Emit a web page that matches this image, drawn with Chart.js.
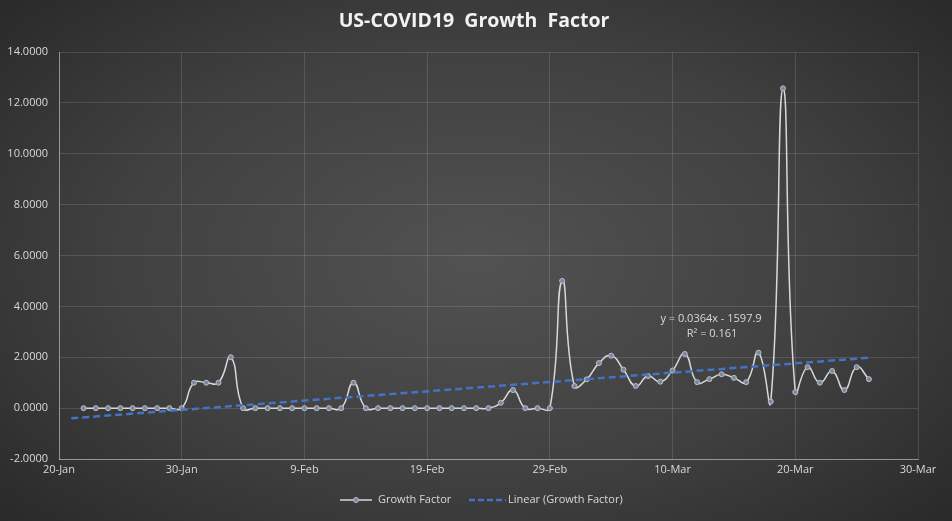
<!DOCTYPE html>
<html>
<head>
<meta charset="utf-8">
<script src="https://cdn.jsdelivr.net/npm/chart.js@4.4.1/dist/chart.umd.min.js"></script>
<style>
  html, body { margin: 0; padding: 0; }
  body {
    width: 952px; height: 521px; overflow: hidden;
    background: radial-gradient(ellipse 70% 75% at 50% 50%, #525252 0%, #404040 55%, #282828 100%);
  }
</style>
</head>
<body>
<canvas id="myChart" width="952" height="521"></canvas>
<script>
// daily dates and growth factor values
var dates = [
  "2020-01-22", "2020-01-23", "2020-01-24", "2020-01-25", "2020-01-26", "2020-01-27", "2020-01-28",
  "2020-01-29", "2020-01-30", "2020-01-31", "2020-02-01", "2020-02-02", "2020-02-03", "2020-02-04",
  "2020-02-05", "2020-02-06", "2020-02-07", "2020-02-08", "2020-02-09", "2020-02-10", "2020-02-11",
  "2020-02-12", "2020-02-13", "2020-02-14", "2020-02-15", "2020-02-16", "2020-02-17", "2020-02-18",
  "2020-02-19", "2020-02-20", "2020-02-21", "2020-02-22", "2020-02-23", "2020-02-24", "2020-02-25",
  "2020-02-26", "2020-02-27", "2020-02-28", "2020-02-29", "2020-03-01", "2020-03-02", "2020-03-03",
  "2020-03-04", "2020-03-05", "2020-03-06", "2020-03-07", "2020-03-08", "2020-03-09", "2020-03-10",
  "2020-03-11", "2020-03-12", "2020-03-13", "2020-03-14", "2020-03-15", "2020-03-16", "2020-03-17",
  "2020-03-18", "2020-03-19", "2020-03-20", "2020-03-21", "2020-03-22", "2020-03-23", "2020-03-24",
  "2020-03-25", "2020-03-26"
];
var growthFactor = [
  0, 0, 0, 0, 0, 0, 0,
  0, 0, 1.0, 1.0, 1.0, 2.0, 0,
  0, 0, 0, 0, 0, 0, 0,
  0, 1.0, 0, 0, 0, 0, 0,
  0, 0, 0, 0, 0, 0, 0.21,
  0.71, 0, 0, 0, 5.0, 0.87, 1.13,
  1.77, 2.06, 1.51, 0.87, 1.26, 1.04, 1.48,
  2.13, 1.02, 1.14, 1.33, 1.19, 1.02, 2.18,
  0.26, 12.57, 0.63, 1.61, 1.0, 1.46, 0.71,
  1.61, 1.14
];
// linear trendline ends as drawn
var trendDates = ["2020-01-21", "2020-03-26"];
var trendValues = [-0.40, 1.98];

var months = ["Jan", "Feb", "Mar", "Apr", "May", "Jun", "Jul", "Aug", "Sep", "Oct", "Nov", "Dec"];
var baseDay = Date.UTC(2020, 0, 20);

function dayOf(s) {
  return Math.round((Date.parse(s) - baseDay) / 86400000);
}
function toPoints(ds, vs) {
  return ds.map(function (d, i) { return { x: dayOf(d), y: vs[i] }; });
}

var textColor = "#d9d9d9";
var fontFamily = "'Open Sans', 'Noto Sans', sans-serif";

var overlay = {
  id: "overlay",
  afterDraw: function (chart) {
    var c = chart.ctx;
    c.save();
    c.textBaseline = "middle";

    // title, centred on the whole canvas
    c.fillStyle = "#f2f2f2";
    c.font = "bold 19.5px " + fontFamily;
    c.textAlign = "center";
    c.fillText("US-COVID19  Growth  Factor", 474, 21);

    // trendline equation
    c.fillStyle = textColor;
    c.font = "11px " + fontFamily;
    c.fillText("y = 0.0364x - 1597.9", 711, 319);
    c.fillText("R\u00b2 = 0.161", 712, 334);

    // legend
    var ly = 500;
    c.strokeStyle = "#d9d9d9";
    c.lineWidth = 1.5;
    c.beginPath();
    c.moveTo(340, ly); c.lineTo(372, ly);
    c.stroke();
    c.beginPath();
    c.arc(356, ly, 2.5, 0, Math.PI * 2);
    c.fillStyle = "#7c8799";
    c.fill();
    c.strokeStyle = "#b8bfcc";
    c.lineWidth = 1;
    c.stroke();
    c.fillStyle = textColor;
    c.textAlign = "left";
    c.fillText("Growth Factor", 378, ly);

    c.strokeStyle = "#4472c4";
    c.lineWidth = 2.5;
    c.setLineDash([6, 3]);
    c.beginPath();
    c.moveTo(469, ly); c.lineTo(506, ly);
    c.stroke();
    c.setLineDash([]);
    c.fillText("Linear (Growth Factor)", 508, ly);
    c.restore();
  }
};

var ctx = document.getElementById("myChart");
var myChart = new Chart(ctx, {
  type: "line",
  data: {
    datasets: [
      {
        label: "Linear (Growth Factor)",
        data: toPoints(trendDates, trendValues),
        borderColor: "#4472c4",
        borderWidth: 2.5,
        borderDash: [7, 4],
        pointRadius: 0,
        tension: 0,
      },
      {
        label: "Growth Factor",
        data: toPoints(dates, growthFactor),
        borderColor: "#d9d9d9",
        borderWidth: 1.5,
        tension: 0.5,
        pointRadius: 2.5,
        pointBorderWidth: 1,
        pointBackgroundColor: "#7c8799",
        pointBorderColor: "#b8bfcc",
      },
    ],
  },
  options: {
    responsive: false,
    animation: false,
    layout: {
      padding: { left: 0, right: 34, top: 52, bottom: 42 },
    },
    plugins: {
      legend: { display: false },
      tooltip: { enabled: false },
      title: { display: false },
    },
    scales: {
      x: {
        type: "linear",
        min: 0,
        max: 70,
        afterFit: function (scale) { scale.height = 20; },
        ticks: {
          stepSize: 10,
          color: textColor,
          font: { family: fontFamily, size: 11 },
          padding: 4,
          maxRotation: 0,
          callback: function (v) {
            var d = new Date(baseDay + v * 86400000);
            return d.getUTCDate() + "-" + months[d.getUTCMonth()];
          },
        },
        grid: { color: "rgba(255,255,255,0.13)", drawTicks: false },
        border: { color: "rgba(255,255,255,0.4)" },
      },
      y: {
        min: -2,
        max: 14,
        afterFit: function (scale) { scale.width = 59; },
        ticks: {
          stepSize: 2,
          color: textColor,
          font: { family: fontFamily, size: 11 },
          padding: 11,
          callback: function (v) { return v.toFixed(4); },
        },
        grid: { color: "rgba(255,255,255,0.13)", drawTicks: false },
        border: { color: "rgba(255,255,255,0.4)" },
      },
    },
  },
  plugins: [overlay],
});
</script>
</body>
</html>
